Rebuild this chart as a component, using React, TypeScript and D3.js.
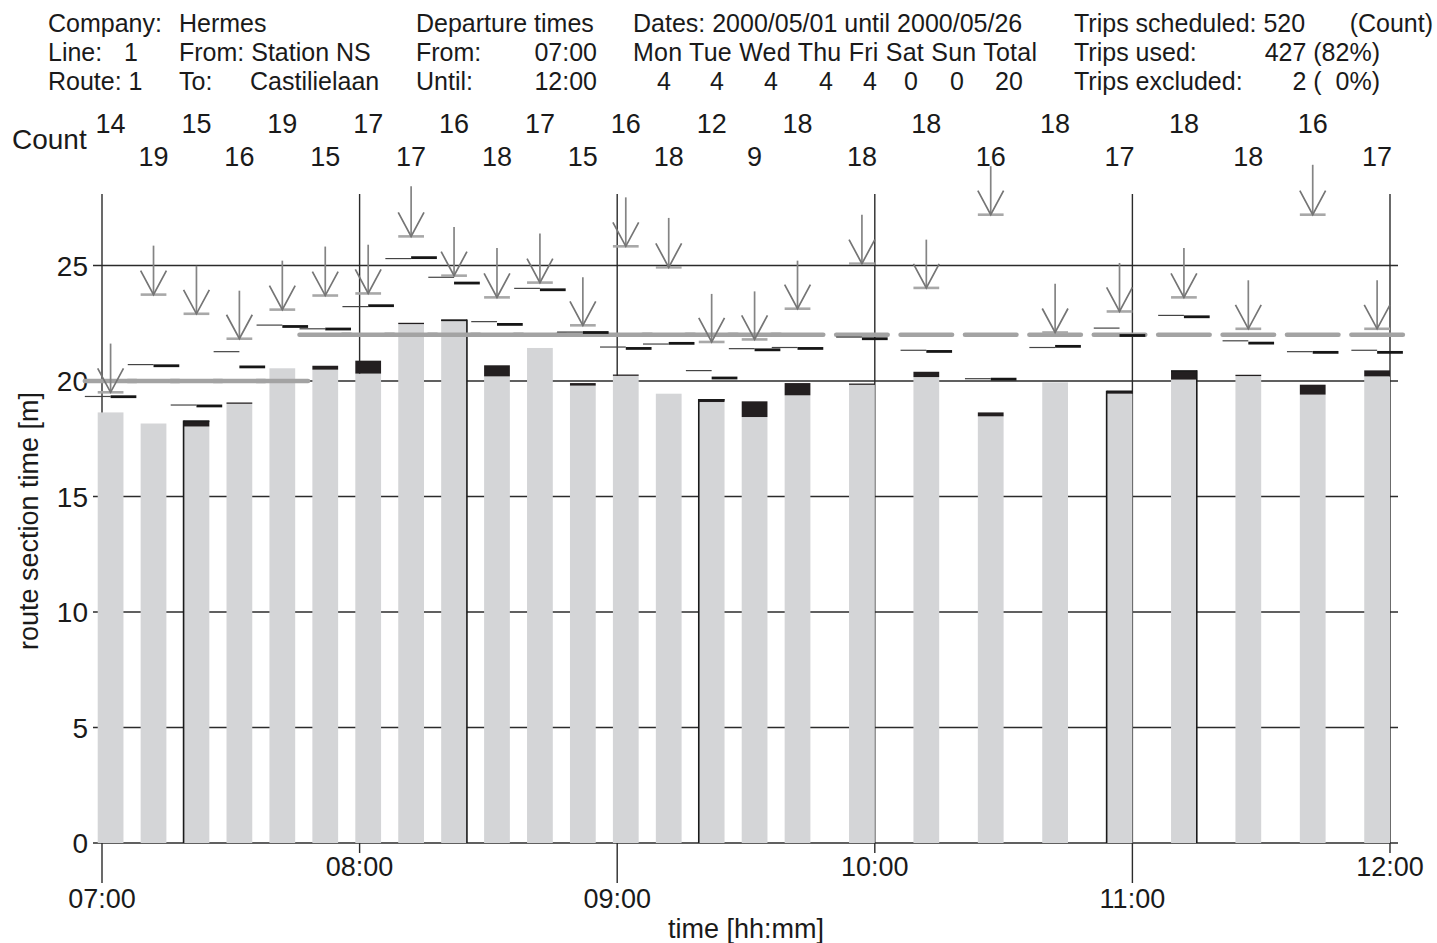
import React from "react";
import * as d3 from "d3";

// departure times in minutes after 07:00
const departures = [2, 12, 22, 32, 42, 52, 62, 72, 82, 92, 102, 112, 122, 132, 142, 152, 162, 177, 192, 207, 222, 237, 252, 267, 282, 297];
const counts = [14, 19, 15, 16, 19, 15, 17, 17, 16, 18, 17, 15, 16, 18, 12, 9, 18, 18, 18, 16, 18, 17, 18, 18, 16, 17];

// grey part of the bar and the black part above it [m]
const grayValues = [18.64, 18.16, 18.03, 19.02, 20.55, 20.49, 20.32, 22.47, 22.64, 20.2, 21.43, 19.8, 20.23, 19.45, 19.09, 18.44, 19.38, 19.84, 20.17, 18.47, 19.94, 19.45, 20.06, 20.23, 19.41, 20.2];
const blackValues = [18.64, 18.16, 18.29, 19.07, 20.55, 20.66, 20.88, 22.52, 22.66, 20.68, 21.43, 19.91, 20.28, 19.45, 19.22, 19.12, 19.91, 19.89, 20.4, 18.64, 19.94, 19.58, 20.46, 20.27, 19.84, 20.46];

// thin mark left of the departure, thick mark right of it
const leftMarks = [19.33, 20.71, 18.96, 21.27, 22.42, 22.26, 23.22, 25.3, 24.49, 22.57, 24.01, 22.12, 21.47, 21.6, 20.45, 21.4, 21.45, 21.9, 21.33, 20.1, 21.45, 22.29, 22.84, 21.74, 21.27, 21.33];
const rightMarks = [19.32, 20.66, 18.92, 20.61, 22.36, 22.25, 23.26, 25.34, 24.24, 22.45, 23.95, 22.1, 21.41, 21.63, 20.13, 21.35, 21.41, 21.83, 21.28, 20.08, 21.5, 21.97, 22.78, 21.64, 21.24, 21.24];

// arrows
const arrowTops = [21.62, 25.86, 24.99, 23.91, 25.21, 25.82, 25.9, 28.43, 26.67, 25.76, 26.38, 24.49, 27.95, 27.06, 23.77, 23.88, 25.21, 27.2, 26.12, 29.3, 24.21, 25.11, 25.76, 24.36, 29.36, 24.36];
const arrowBases = [19.51, 23.74, 22.91, 21.83, 23.09, 23.7, 23.79, 26.26, 24.56, 23.62, 24.26, 22.41, 25.83, 24.92, 21.69, 21.8, 23.13, 25.08, 24.03, 27.2, 22.1, 23.01, 23.62, 22.26, 27.2, 22.26];

// scheduled time per departure
const scheduled = [20, 20, 20, 20, 20, 22, 22, 22, 22, 22, 22, 22, 22, 22, 22, 22, 22, 22, 22, 22, 22, 22, 22, 22, 22, 22];

// bars with a black outline on one side
const outlinedBars = [
  { index: 2, side: "left" },
  { index: 8, side: "right" },
  { index: 14, side: "left" },
  { index: 21, side: "left" },
  { index: 22, side: "right" },
];

const yTicks = [0, 5, 10, 15, 20, 25];
const hourTicks = [0, 60, 120, 180, 240, 300];
const hourLabels = ["07:00", "08:00", "09:00", "10:00", "11:00", "12:00"];

const dayNames = "Mon Tue Wed Thu Fri Sat Sun Total";
const dayCounts = ["4", "4", "4", "4", "4", "0", "0", "20"];
const dayCountX = [664, 717, 771, 826, 870, 911, 957, 1009];

const FONT = "'Liberation Sans', Arial, Helvetica, sans-serif";

const App = () => {
  const x = d3.scaleLinear().domain([0, 300]).range([102, 1390]);
  const y = d3.scaleLinear().domain([0, 25]).range([843, 265.5]);
  const half = x(3) - x(0);
  const grid = "#2b2b2b";

  return (
    <svg
      width={1437}
      height={943}
      style={{ position: "absolute", left: 0, top: 0, background: "#fff" }}
      fontFamily={FONT}
      fontSize={25}
      fill="#1a1a1a"
    >
      {/* header */}
      <g>
        <text x={48} y={32}>Company:</text>
        <text x={179} y={32}>Hermes</text>
        <text x={48} y={61}>Line:</text>
        <text x={138} y={61} textAnchor="end">1</text>
        <text x={179} y={61}>From: Station NS</text>
        <text x={48} y={90}>Route: 1</text>
        <text x={179} y={90}>To:</text>
        <text x={250} y={90}>Castilielaan</text>

        <text x={416} y={32}>Departure times</text>
        <text x={416} y={61}>From:</text>
        <text x={597} y={61} textAnchor="end">07:00</text>
        <text x={416} y={90}>Until:</text>
        <text x={597} y={90} textAnchor="end">12:00</text>

        <text x={633} y={32}>Dates: 2000/05/01 until 2000/05/26</text>
        <text x={633} y={61} textLength={404} lengthAdjust="spacing">{dayNames}</text>
        {dayCounts.map((d, i) => (
          <text key={i} x={dayCountX[i]} y={90} textAnchor="middle">{d}</text>
        ))}

        <text x={1074} y={32}>Trips scheduled: 520</text>
        <text x={1433} y={32} textAnchor="end">(Count)</text>
        <text x={1074} y={61}>Trips used:</text>
        <text x={1380} y={61} textAnchor="end">427 (82%)</text>
        <text x={1074} y={90}>Trips excluded:</text>
        <text x={1380} y={90} textAnchor="end" style={{ whiteSpace: "pre" }}>{"2 (  0%)"}</text>
      </g>

      {/* counts */}
      <text x={12} y={149} fontSize={28}>Count</text>
      {counts.map((c, i) => (
        <text key={i} x={x(departures[i])} y={i % 2 === 0 ? 133 : 166} textAnchor="middle" fontSize={27}>{c}</text>
      ))}

      {/* grid */}
      {yTicks.map((v) => (
        <line key={v} x1={93} x2={1398} y1={y(v)} y2={y(v)} stroke={grid} strokeWidth={1.4} />
      ))}
      {hourTicks.map((m, i) => (
        <g key={m}>
          <line x1={x(m)} x2={x(m)} y1={194} y2={y(0)} stroke={grid} strokeWidth={1.4} />
          <line x1={x(m)} x2={x(m)} y1={y(0)} y2={i % 2 === 0 ? 883 : 853} stroke={grid} strokeWidth={1.4} />
          <text x={x(m)} y={i % 2 === 0 ? 908 : 876} textAnchor="middle" fontSize={27}>{hourLabels[i]}</text>
        </g>
      ))}
      {yTicks.map((v) => (
        <text key={v} x={88} y={y(v) + 10} textAnchor="end" fontSize={28}>{v}</text>
      ))}

      {/* bars */}
      {departures.map((t, i) => (
        <g key={i}>
          <rect x={x(t - 3)} width={2 * half} y={y(grayValues[i])} height={y(0) - y(grayValues[i])} fill="#d4d5d7" />
          {blackValues[i] > grayValues[i] && (
            <rect x={x(t - 3)} width={2 * half} y={y(blackValues[i])} height={Math.max(1.3, y(grayValues[i]) - y(blackValues[i]))} fill="#231f20" />
          )}
        </g>
      ))}
      {outlinedBars.map(({ index, side }) => {
        const t = departures[index];
        const ex = side === "left" ? x(t - 3) : x(t + 3);
        const top = y(blackValues[index]);
        return (
          <g key={index} stroke="#1a1a1a" strokeWidth={1.6}>
            <line x1={ex} x2={ex} y1={top} y2={y(0)} />
            <line x1={x(t - 3)} x2={x(t + 3)} y1={top + 0.8} y2={top + 0.8} />
          </g>
        );
      })}

      {/* scheduled time */}
      {departures.map((t, i) => (
        <line key={i} x1={x(t - 6)} x2={x(t + 6)} y1={y(scheduled[i])} y2={y(scheduled[i])} stroke="#a3a3a3" strokeWidth={4.5} strokeLinecap="round" />
      ))}

      {/* marks */}
      {departures.map((t, i) => (
        <g key={i}>
          <line x1={x(t - 6)} x2={x(t)} y1={y(leftMarks[i])} y2={y(leftMarks[i])} stroke="#444" strokeWidth={1.2} />
          <line x1={x(t)} x2={x(t + 6)} y1={y(rightMarks[i])} y2={y(rightMarks[i])} stroke="#161616" strokeWidth={2.8} />
        </g>
      ))}

      {/* arrows */}
      {departures.map((t, i) => {
        const cx = x(t);
        const tip = y(arrowBases[i]);
        return (
          <g key={i}>
            <line x1={x(t - 3)} x2={x(t + 3)} y1={tip} y2={tip} stroke="#a8a8a8" strokeWidth={2.6} />
            <line x1={cx} x2={cx} y1={y(arrowTops[i])} y2={tip} stroke="#848484" strokeWidth={1.7} />
            <polyline points={`${cx - half},${tip - 24} ${cx},${tip} ${cx + half},${tip - 24}`} fill="none" stroke="#757575" strokeWidth={1.7} />
          </g>
        );
      })}

      {/* axis titles */}
      <text x={746} y={938} textAnchor="middle" fontSize={27}>time [hh:mm]</text>
      <text transform="translate(38,521) rotate(-90)" textAnchor="middle" fontSize={27}>route section time [m]</text>
    </svg>
  );
};

export default App;
